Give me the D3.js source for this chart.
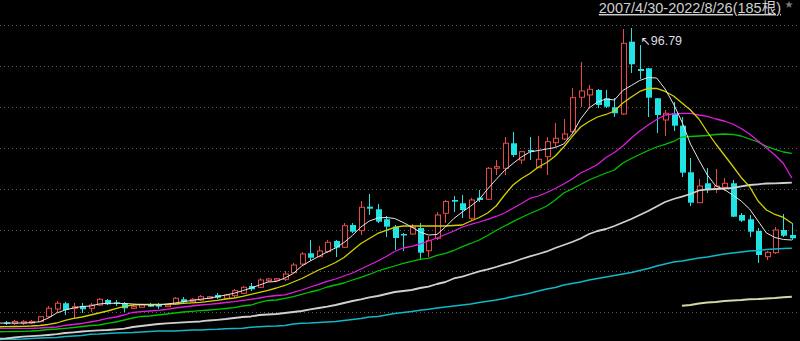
<!DOCTYPE html>
<html>
<head>
<meta charset="utf-8">
<script src="https://cdn.jsdelivr.net/npm/d3@7"></script>
<style>
  html, body { margin: 0; padding: 0; background: #000; }
  svg { display: block; }
</style>
</head>
<body>
<svg id="chart"></svg>
<script>
// monthly K-line, visible part of the 185 bars; slot 0 is the bar just off the left edge
const title = "2007/4/30-2022/8/26(185根)";

const open  = [null,23.17,22.92,22.96,23.04,23.37,24.62,26.54,27.97,26.72,27.29,26.72,27.54,28.79,28.22,27.97,26.72,26.97,27.72,27.72,27.12,27.79,28.97,28.37,28.79,29.22,30.04,29.22,29.87,30.47,32.29,31.97,33.62,33.79,33.97,35.62,37.79,40.47,39.62,40.87,43.54,41.97,47.54,46.12,52.12,51.47,48.97,47.12,45.29,45.29,46.79,41.12,44.22,50.47,53.79,52.97,49.22,54.37,53.97,61.72,61.72,67.97,63.79,66.29,61.87,64.62,68.12,69.04,70.87,79.47,80.04,81.29,79.22,76.97,75.29,93.37,86.54,86.72,79.22,73.79,75.47,72.37,60.72,53.12,57.97,56.47,56.97,57.97,50.04,48.97,46.04,39.62,40.62,46.29,45.04];
const high  = [null,23.54,23.79,23.79,23.67,24.87,27.29,28.62,28.37,28.04,28.04,27.97,29.22,28.97,28.79,28.29,27.42,27.79,27.92,28.04,27.79,29.42,29.47,29.17,30.04,29.79,30.47,30.29,31.47,32.29,32.97,34.22,34.37,34.29,36.12,37.97,40.87,43.79,42.29,43.79,43.79,48.12,48.12,53.62,55.29,52.79,49.79,47.54,45.42,47.79,48.04,44.72,50.72,53.79,54.79,55.04,54.22,56.29,62.12,63.79,69.62,70.87,66.12,69.62,69.79,69.62,72.97,73.97,81.72,88.37,82.54,81.54,81.29,79.22,96.47,96.79,92.54,86.72,79.29,76.29,78.37,74.62,64.37,59.04,61.87,61.54,59.22,58.79,50.62,50.04,46.72,41.12,47.12,50.29,47.97];
const low   = [null,22.54,22.54,22.54,22.79,23.22,24.22,25.87,25.04,24.04,25.54,25.87,27.29,27.54,27.29,25.87,26.54,26.79,26.92,26.54,26.92,27.54,27.97,28.17,28.62,29.04,29.04,29.04,29.62,30.22,31.12,31.72,33.37,33.54,33.62,35.47,37.54,38.54,39.47,40.62,39.62,41.72,45.47,45.04,50.04,47.97,44.62,41.29,41.12,45.04,39.04,39.47,43.79,48.04,50.87,49.22,48.79,53.37,53.79,60.04,60.04,64.62,62.72,63.79,61.72,60.04,67.12,68.79,70.62,76.97,76.72,76.79,76.72,74.62,75.04,85.62,83.97,74.62,70.47,69.79,71.12,59.62,52.29,52.97,55.47,55.47,56.12,49.62,48.22,44.62,37.97,38.79,40.22,44.62,43.79];
const close = [null,22.79,23.42,23.37,23.42,24.62,26.72,27.97,26.29,27.12,26.47,27.54,28.97,27.72,27.87,26.72,27.12,27.54,27.12,27.12,27.54,29.22,28.22,28.97,29.62,29.62,29.37,30.04,31.12,31.97,31.47,33.79,34.04,34.12,35.29,37.54,40.29,39.37,41.04,43.22,41.87,47.37,45.87,51.97,51.62,48.37,47.12,44.29,45.04,46.92,40.62,43.62,50.04,53.42,53.37,51.29,53.79,53.79,61.72,62.12,67.97,65.04,65.87,65.87,63.97,68.37,69.22,70.29,79.37,81.04,81.47,77.54,77.12,75.47,92.97,87.72,86.04,79.37,75.04,75.47,72.37,60.62,53.12,57.29,56.29,57.29,57.97,49.62,48.62,45.87,40.04,40.72,46.29,44.87,44.22];

// moving averages
const ma5   = [23.0,23.04,23.04,23.04,23.12,23.37,24.29,25.54,26.29,26.79,27.17,27.29,27.79,27.97,27.97,27.92,27.79,27.67,27.54,27.54,27.79,28.04,28.37,28.67,28.97,29.22,29.62,30.04,30.47,31.12,31.79,32.54,33.29,33.42,34.29,35.42,37.29,38.54,39.67,40.79,41.79,43.17,44.92,47.04,48.54,49.29,49.42,49.17,48.17,47.04,45.79,45.04,45.17,47.04,49.17,50.79,52.29,53.92,56.54,58.92,61.17,62.92,64.54,65.79,66.17,66.54,66.92,67.79,70.29,74.04,76.79,78.29,79.04,78.79,81.17,82.42,83.67,84.42,84.29,81.54,77.79,73.29,67.79,63.79,60.04,57.29,56.42,55.04,53.54,51.54,48.54,45.54,44.42,43.92,43.79];
const ma10  = [22.1,22.12,22.17,22.22,22.29,22.42,22.67,23.04,23.67,24.17,24.54,25.04,25.54,26.04,26.62,27.17,27.54,27.67,27.72,27.72,27.72,27.79,27.97,28.09,28.22,28.47,28.72,29.04,29.29,29.72,30.22,30.72,31.22,31.79,32.42,33.29,34.17,35.22,36.29,37.17,38.17,39.42,41.17,42.92,44.17,45.42,46.17,46.92,47.29,47.29,47.29,47.29,47.29,47.29,47.42,47.54,48.54,49.42,50.54,52.29,55.04,57.54,59.17,60.42,62.04,63.17,64.79,67.04,69.62,72.04,73.42,74.54,75.17,76.04,78.04,79.54,80.92,81.72,81.67,80.92,79.79,78.04,76.29,74.04,70.79,67.79,65.04,62.29,59.42,57.12,53.54,51.29,50.17,49.42,47.97];
const ma20  = [21.72,21.72,21.72,21.72,21.72,21.79,21.92,22.04,22.42,22.67,22.92,23.29,23.67,24.17,24.54,25.04,25.67,25.87,26.04,26.22,26.42,26.79,27.04,27.29,27.54,27.72,27.92,28.17,28.37,28.67,28.97,29.29,29.67,29.92,30.09,30.67,31.29,32.04,32.67,33.42,34.04,34.79,35.54,36.54,37.54,38.54,39.67,40.92,41.79,42.22,42.79,43.54,44.29,45.17,46.04,47.04,47.67,48.29,48.92,49.67,50.54,51.72,52.92,54.17,54.79,55.67,56.67,57.79,59.04,60.54,61.54,62.67,64.42,65.67,67.29,69.29,71.04,72.54,73.92,75.04,75.29,75.47,75.47,75.04,74.67,74.04,73.54,72.79,71.67,70.29,68.54,66.79,65.04,62.92,59.29];
const ma30  = [20.85,20.87,20.92,20.97,21.04,21.17,21.42,21.54,21.72,21.92,22.17,22.42,22.54,22.92,23.29,23.79,24.29,24.67,24.79,25.04,25.29,25.54,25.79,25.97,26.12,26.29,26.47,26.67,26.87,27.29,27.54,28.17,28.67,28.79,29.17,29.62,30.17,30.79,31.29,32.04,32.54,33.04,33.79,34.42,35.17,36.04,36.67,37.29,37.92,38.42,38.92,39.22,39.92,40.47,41.17,42.12,42.92,43.79,44.92,46.17,47.29,48.37,49.42,50.42,51.29,52.29,53.79,55.54,56.54,57.67,58.79,59.67,60.54,61.29,63.04,64.17,65.17,66.17,67.04,67.67,68.42,69.54,69.67,69.79,69.92,70.17,70.29,70.17,69.79,69.04,68.29,67.17,66.42,65.79,65.47];
const ma60  = [19.1,19.22,19.42,19.62,19.74,19.87,20.04,20.24,20.54,20.72,20.92,21.09,21.22,21.29,21.47,21.62,22.04,22.29,22.54,22.79,22.97,23.09,23.22,23.34,23.42,23.67,23.84,24.04,24.29,24.54,24.67,25.04,25.17,25.29,25.54,25.79,26.04,26.42,26.79,27.12,27.54,28.04,28.54,28.92,29.42,29.79,30.29,30.79,31.04,31.29,31.79,32.12,32.79,33.29,34.17,34.62,35.29,35.92,36.42,37.04,37.67,38.29,39.04,39.67,40.29,40.92,41.79,42.54,43.29,44.17,45.29,46.04,46.54,47.29,48.17,49.04,50.04,51.04,52.17,53.29,54.04,54.62,55.29,56.17,56.42,56.54,56.67,56.79,57.17,57.54,57.72,57.92,57.97,58.04,58.12];
const ma120 = [18.9,18.97,18.97,19.04,19.17,19.29,19.37,19.42,19.67,19.79,19.92,20.22,20.29,20.42,20.54,20.62,20.67,20.79,20.92,21.04,21.04,21.04,21.17,21.29,21.29,21.42,21.47,21.59,21.67,21.72,21.97,22.12,22.24,22.29,22.42,22.79,22.97,23.04,23.17,23.29,23.42,23.67,23.92,24.17,24.54,24.67,25.04,25.42,25.67,25.92,26.22,26.47,26.79,27.04,27.29,27.54,27.79,28.17,28.47,28.79,29.17,29.67,30.04,30.47,31.04,31.54,31.92,32.54,32.92,33.29,33.79,34.17,34.54,34.92,35.29,35.67,36.17,36.67,37.29,37.79,38.29,38.54,38.92,39.29,39.54,39.92,40.29,40.54,40.79,41.04,41.17,41.42,41.54,41.67,41.72];
const ma250 = [null,null,null,null,null,null,null,null,null,null,null,null,null,null,null,null,null,null,null,null,null,null,null,null,null,null,null,null,null,null,null,null,null,null,null,null,null,null,null,null,null,null,null,null,null,null,null,null,null,null,null,null,null,null,null,null,null,null,null,null,null,null,null,null,null,null,null,null,null,null,null,null,null,null,null,null,null,null,null,null,null,27.37,27.54,27.92,28.17,28.29,28.54,28.67,28.79,28.97,29.04,29.17,29.29,29.47,29.62];

// dotted price grid
const gridValues = [97.5, 87.25, 77, 66.75, 56.5, 46.25, 36, 25.75];

const maList = [
	{ values: ma250, color: "#d6d6a8", width: 2 },
	{ values: ma120, color: "#10b8c8", width: 1.6 },
	{ values: ma60,  color: "#d0d0d0", width: 1.8 },
	{ values: ma30,  color: "#00c400", width: 1.3 },
	{ values: ma20,  color: "#e01ee0", width: 1.3 },
	{ values: ma10,  color: "#d2d200", width: 1.3 },
	{ values: ma5,   color: "#e6e6e6", width: 1 }
];

const width = 800;
const height = 341;
const upColor = "#e84a4a";
const downColor = "#22e3e3";

let svg = d3.select("#chart")
	.attr("width", width)
	.attr("height", height)
	.style("background", "#000");

let xScale = d3.scaleLinear()
	.domain([0, open.length - 1])
	.range([-2.45, 791.85]);

let yScale = d3.scaleLinear()
	.domain([18.54, 103.79])
	.range([height, 0]);

// grid lines from a left axis with full-width ticks
let grid = d3.axisLeft(yScale)
	.tickValues(gridValues)
	.tickSize(-width)
	.tickFormat("");

svg.append("g")
	.attr("class", "grid")
	.call(grid)
	.call(g => g.select(".domain").remove())
	.selectAll("line")
		.attr("stroke", "#5a5a5a")
		.attr("stroke-dasharray", "1,3")
		.attr("shape-rendering", "crispEdges");

let bars = open.map((o, i) => ({ i: i, o: o, h: high[i], l: low[i], c: close[i] }))
	.filter(d => d.o != null);

let candle = svg.append("g")
	.selectAll("g")
	.data(bars)
	.enter()
	.append("g");

// wicks
candle.append("line")
	.attr("x1", d => Math.round(xScale(d.i)) + 0.5)
	.attr("x2", d => Math.round(xScale(d.i)) + 0.5)
	.attr("y1", d => yScale(d.h))
	.attr("y2", d => yScale(d.l))
	.attr("stroke", d => d.c > d.o ? upColor : downColor)
	.attr("stroke-width", 1)
	.attr("shape-rendering", "crispEdges");

// bodies: hollow red for up, solid cyan for down
candle.append("rect")
	.attr("x", d => d.c > d.o ? Math.round(xScale(d.i)) - 2 + 0.5 : Math.round(xScale(d.i)) - 2)
	.attr("width", d => d.c > d.o ? 5 : 6)
	.attr("y", d => yScale(Math.max(d.o, d.c)))
	.attr("height", d => Math.max(1.5, Math.abs(yScale(d.o) - yScale(d.c))))
	.attr("fill", d => d.c > d.o ? "#000" : downColor)
	.attr("stroke", d => d.c > d.o ? upColor : "none")
	.attr("stroke-width", 1);

// moving average lines
let line = d3.line()
	.defined(d => d != null)
	.x((d, i) => xScale(i))
	.y(d => yScale(d));

svg.append("g")
	.selectAll("path")
	.data(maList)
	.enter()
	.append("path")
		.attr("d", d => line(d.values))
		.attr("fill", "none")
		.attr("stroke", d => d.color)
		.attr("stroke-width", d => d.width)
		.attr("stroke-linejoin", "round");

// highest price marker
let peak = bars.reduce((a, b) => b.h > a.h ? b : a);
svg.append("text")
	.attr("x", xScale(peak.i) + 9)
	.attr("y", yScale(peak.h) + 17)
	.attr("fill", "#dcdce6")
	.style("font-family", "'Liberation Sans', 'DejaVu Sans', sans-serif")
	.style("font-size", "12.5px")
	.text("↖" + peak.h.toFixed(2));

// range caption, top right
svg.append("text")
	.attr("x", 781)
	.attr("y", 13)
	.attr("text-anchor", "end")
	.attr("fill", "#cfcfcf")
	.style("font-family", "'Liberation Sans', 'Noto Sans CJK SC', sans-serif")
	.style("font-size", "14.5px")
	.style("text-decoration", "underline")
	.text(title);

svg.append("text")
	.attr("x", 789)
	.attr("y", 8)
	.attr("text-anchor", "middle")
	.attr("fill", "#7a7a7a")
	.style("font-family", "'DejaVu Sans', sans-serif")
	.style("font-size", "10px")
	.text("★");
</script>
</body>
</html>
